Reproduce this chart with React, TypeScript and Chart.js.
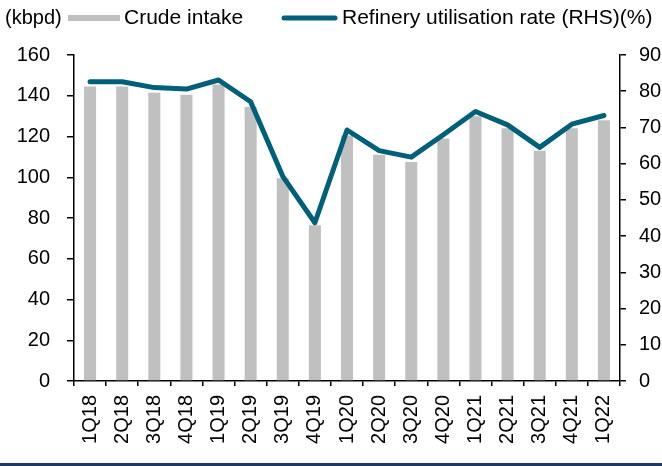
import React, { useEffect, useRef } from "react";
import { Chart, registerables } from "chart.js";

Chart.register(...registerables);

const categories = ["1Q18", "2Q18", "3Q18", "4Q18", "1Q19", "2Q19", "3Q19", "4Q19", "1Q20", "2Q20", "3Q20", "4Q20", "1Q21", "2Q21", "3Q21", "4Q21", "1Q22"];
const crudeIntake = [144.5, 144.5, 141.5, 140.5, 145.5, 134.5, 99.5, 76.5, 120.5, 111, 107.5, 119, 130, 124, 113, 124, 128];
const utilisationRate = [82.6, 82.6, 81.0, 80.6, 83.1, 77.1, 56.5, 43.7, 69.3, 63.6, 61.8, 68.0, 74.4, 70.7, 64.5, 70.9, 73.3];

const leftUnit = "(kbpd)";
const barLabel = "Crude intake";
const lineLabel = "Refinery utilisation rate (RHS)(%)";

const FONT = "'Liberation Sans', Arial, sans-serif";
const BAR_COLOR = "#C0C0C0";
const LINE_COLOR = "#00607A";

const overlayPlugin = {
  id: "overlay",
  afterDraw(chart: any) {
    const ctx = chart.ctx;
    ctx.save();
    ctx.fillStyle = "#000";
    ctx.textBaseline = "middle";
    ctx.textAlign = "left";
    ctx.font = `20px ${FONT}`;
    ctx.fillText(leftUnit, 5, 18);
    ctx.fillStyle = BAR_COLOR;
    ctx.fillRect(68, 15, 52, 6);
    ctx.fillStyle = "#000";
    ctx.font = `21px ${FONT}`;
    ctx.fillText(barLabel, 124, 18);
    ctx.strokeStyle = LINE_COLOR;
    ctx.lineWidth = 5;
    ctx.lineCap = "round";
    ctx.beginPath();
    ctx.moveTo(284, 18);
    ctx.lineTo(335, 18);
    ctx.stroke();
    ctx.fillText(lineLabel, 342, 18);
    ctx.fillStyle = "#1F3864";
    ctx.fillRect(0, 463, 662, 3);
    ctx.restore();
  },
};

export default function App() {
  const ref = useRef<HTMLCanvasElement | null>(null);
  useEffect(() => {
    if (!ref.current) return;
    const tickFont = { family: FONT, size: 20 };
    const chart = new Chart(ref.current, {
      type: "bar",
      data: {
        labels: categories,
        datasets: [
          {
            type: "line",
            label: lineLabel,
            data: utilisationRate,
            yAxisID: "y1",
            borderColor: LINE_COLOR,
            backgroundColor: LINE_COLOR,
            borderWidth: 5,
            pointRadius: 0,
            tension: 0,
            borderCapStyle: "round",
            borderJoinStyle: "round",
            order: 0,
          } as any,
          {
            type: "bar",
            label: barLabel,
            data: crudeIntake,
            yAxisID: "y",
            backgroundColor: BAR_COLOR,
            barPercentage: 0.375,
            categoryPercentage: 1,
            order: 1,
          },
        ],
      },
      options: {
        responsive: false,
        animation: false,
        devicePixelRatio: 1,
        layout: { padding: { top: 55, left: 0, right: 0, bottom: 0 } },
        plugins: { legend: { display: false }, tooltip: { enabled: false } },
        scales: {
          x: {
            offset: true,
            grid: { offset: true, drawOnChartArea: false, drawTicks: true, tickLength: 5, color: "#000", lineWidth: 1.5 },
            border: { color: "#000", width: 1.5 },
            ticks: { minRotation: 90, maxRotation: 90, autoSkip: false, font: tickFont, color: "#000", padding: 9 },
            afterFit: (s: any) => { s.height = 85; },
          },
          y: {
            position: "left",
            min: 0,
            max: 160,
            ticks: { stepSize: 20, font: tickFont, color: "#000", padding: 17 },
            grid: { drawOnChartArea: false, drawTicks: true, tickLength: 7, color: "#000", lineWidth: 1.5 },
            border: { color: "#000", width: 1.5 },
            afterFit: (s: any) => { s.width = 74; },
          },
          y1: {
            position: "right",
            min: 0,
            max: 90,
            ticks: { stepSize: 10, font: tickFont, color: "#000", padding: 13 },
            grid: { drawOnChartArea: false, drawTicks: true, tickLength: 6, color: "#000", lineWidth: 1.5 },
            border: { color: "#000", width: 1.5 },
            afterFit: (s: any) => { s.width = 42; },
          },
        },
      },
      plugins: [overlayPlugin],
    });
    return () => chart.destroy();
  }, []);
  return (
    <div style={{ position: "absolute", left: 0, top: 0, width: 662, height: 466 }}>
      <canvas ref={ref} width={662} height={466} />
    </div>
  );
}
